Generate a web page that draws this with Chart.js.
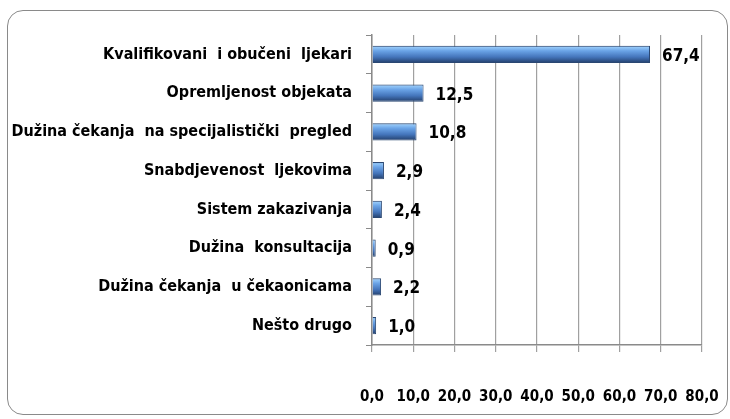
<!DOCTYPE html>
<html>
<head>
<meta charset="utf-8">
<script src="https://cdn.jsdelivr.net/npm/chart.js@4/dist/chart.umd.min.js"></script>
<style>
  html, body { margin: 0; padding: 0; background: #fff; }
  #wrap { position: relative; width: 730px; height: 419px; }
  #frame {
    position: absolute; left: 7px; top: 10px; width: 719px; height: 403px;
    border: 1.5px solid #8a8a8a; border-radius: 16px;
  }
  canvas { position: absolute; left: 0; top: 0; }
</style>
</head>
<body>
<div id="wrap">
  <div id="frame"></div>
  <canvas id="myChart" width="730" height="419"></canvas>
</div>
<script>
// categories and values (percent)
var categories = [
  "Kvalifikovani  i obučeni  ljekari",
  "Opremljenost objekata",
  "Dužina čekanja  na specijalistički  pregled",
  "Snabdjevenost  ljekovima",
  "Sistem zakazivanja",
  "Dužina  konsultacija",
  "Dužina čekanja  u čekaonicama",
  "Nešto drugo"
];
var values = [67.4, 12.5, 10.8, 2.9, 2.4, 0.9, 2.2, 1.0];
var xTicks = [0, 10, 20, 30, 40, 50, 60, 70, 80];

var fontFam = "'Liberation Sans Narrow', 'DejaVu Sans Condensed', 'Liberation Sans', sans-serif";

function fmt(v) {
  return v.toFixed(1).replace(".", ",");
}

// shaded bars + value labels
var barLook = {
  id: "barLook",
  beforeDatasetsDraw(chart) {
    var ctx = chart.ctx;
    chart.getDatasetMeta(0).data.forEach(function (bar) {
      var top = bar.y - bar.height / 2;
      var bot = bar.y + bar.height / 2;
      var g = ctx.createLinearGradient(0, top, 0, bot);
      g.addColorStop(0, "#2f5a94");
      g.addColorStop(0.1, "#92c6f7");
      g.addColorStop(0.3, "#6aa3e6");
      g.addColorStop(0.65, "#4475bb");
      g.addColorStop(1, "#223d68");
      bar.options = Object.assign({}, bar.options, { backgroundColor: g });
    });
  },
  afterDatasetsDraw(chart) {
    var ctx = chart.ctx;
    ctx.save();
    ctx.font = "bold 17px " + fontFam;
    ctx.fillStyle = "#000";
    ctx.textBaseline = "middle";
    ctx.textAlign = "left";
    chart.getDatasetMeta(0).data.forEach(function (bar, i) {
      ctx.fillText(fmt(values[i]), bar.x + 12, bar.y + 2);
    });
    ctx.restore();
  }
};

new Chart(document.getElementById("myChart"), {
  type: "bar",
  data: {
    labels: categories,
    datasets: [{
      label: "",
      data: values,
      backgroundColor: "#4a7fc8",
      borderColor: "#2a4772",
      borderWidth: 1,
      barPercentage: 0.9,
      categoryPercentage: 0.5
    }]
  },
  options: {
    indexAxis: "y",
    responsive: false,
    animation: false,
    layout: { padding: { top: 35, right: 28, left: 0, bottom: 0 } },
    plugins: {
      legend: { display: false },
      title: { display: false },
      tooltip: { enabled: false }
    },
    scales: {
      x: {
        min: 0,
        max: 80,
        afterBuildTicks: function (scale) {
          scale.ticks = xTicks.map(function (v) { return { value: v }; });
        },
        afterFit: function (scale) {
          scale.height = 74;
          scale.paddingLeft = 0;
          scale.paddingRight = 0;
        },
        grid: { color: "#a0a0a0", lineWidth: 1.2, tickLength: 7 },
        border: { color: "#8a8a8a", width: 1.5 },
        ticks: {
          padding: 36,
          color: "#000",
          font: { family: fontFam, size: 15, weight: "bold" },
          callback: function (v) { return fmt(v); }
        }
      },
      y: {
        afterFit: function (scale) {
          scale.width = 372;
          scale.paddingTop = 0;
          scale.paddingBottom = 0;
        },
        grid: { drawOnChartArea: false, offset: true, color: "#8a8a8a", tickLength: 6 },
        border: { color: "#8a8a8a", width: 1.5 },
        ticks: {
          padding: 14,
          color: "#000",
          font: { family: fontFam, size: 16, weight: "bold" }
        }
      }
    }
  },
  plugins: [barLook]
});
</script>
</body>
</html>
